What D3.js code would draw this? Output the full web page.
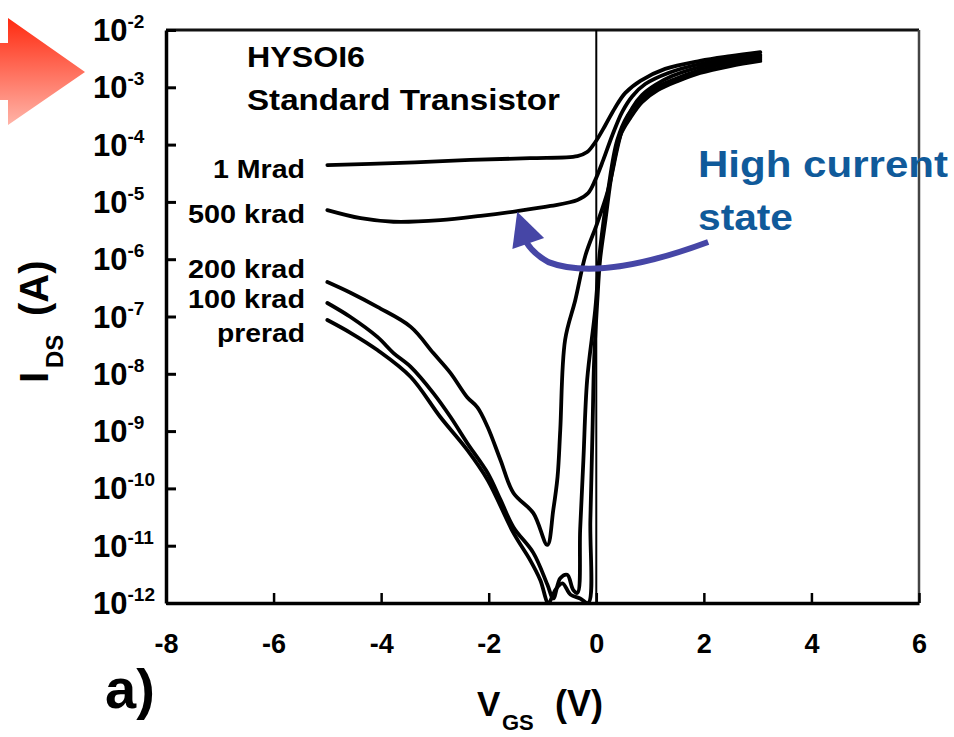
<!DOCTYPE html>
<html>
<head>
<meta charset="utf-8">
<script src="https://cdn.jsdelivr.net/npm/d3@7"></script>
<style>
  html, body { margin: 0; padding: 0; background: #fff; }
  svg { display: block; }
  text { font-family: "Liberation Sans", Arial, sans-serif; }
</style>
</head>
<body>
<svg id="chart" width="954" height="737"></svg>
<script>
// ---------- data ----------
const xTicks = [-8, -6, -4, -2, 0, 2, 4, 6];
const yTickExps = [-2, -3, -4, -5, -6, -7, -8, -9, -10, -11, -12];

const seriesNames = ["1 Mrad", "500 krad", "200 krad", "100 krad", "prerad"];

const vgs1M = [-5.00,-3.64,-2.34,-1.23,-0.35,-0.17,-0.02,0.17,0.35,0.54,0.82,1.28,1.93,2.49,3.05];
const ids1M = [4.4e-5,4.8e-5,5.4e-5,5.8e-5,6.3e-5,7.4e-5,1.1e-4,2.2e-4,4.4e-4,8.0e-4,1.3e-3,2.1e-3,2.9e-3,3.5e-3,4.1e-3];

const vgs500k = [-5.00,-4.38,-3.77,-2.90,-2.15,-1.47,-0.85,-0.35,-0.15,-0.02,0.13,0.30,0.48,0.67,0.91,1.34,1.93,2.49,3.05];
const ids500k = [7.2e-6,5.2e-6,4.5e-6,4.8e-6,5.7e-6,6.9e-6,8.5e-6,1.08e-5,1.43e-5,2.4e-5,5.4e-5,1.47e-4,3.7e-4,7.0e-4,1.14e-3,1.78e-3,2.55e-3,3.1e-3,3.66e-3];

const vgs200k = [-5.00,-4.57,-4.07,-3.45,-3.03,-2.71,-2.40,-2.21,-2.02,-1.78,-1.54,-1.17,-0.91,-0.80,-0.72,-0.67,-0.58,-0.39,-0.20,0.02,0.22,0.48,0.67,0.85,1.10,1.41,1.93,2.49,3.05];
const ids200k = [4.0e-7,2.6e-7,1.47e-7,6.6e-8,2.3e-8,1.03e-8,3.9e-9,2.6e-9,1.18e-9,3.1e-10,8.3e-11,3.7e-11,1.03e-11,4.2e-11,1.6e-10,1.04e-9,3.9e-8,1.94e-7,1.18e-6,4.3e-6,1.61e-5,1.8e-4,4.35e-4,7.3e-4,1.10e-3,1.57e-3,2.26e-3,2.88e-3,3.38e-3];

const vgs100k = [-5.00,-4.57,-4.07,-3.77,-3.45,-3.03,-2.71,-2.40,-2.02,-1.78,-1.54,-1.17,-0.91,-0.80,-0.67,-0.54,-0.43,-0.35,-0.30,-0.24,-0.17,-0.02,0.07,0.22,0.39,0.59,0.82,1.10,1.47,1.93,2.49,3.05];
const ids100k = [1.72e-7,9.8e-8,4.4e-8,2.3e-8,1.32e-8,4.6e-9,1.76e-9,6.2e-10,1.86e-10,6.3e-11,2.1e-11,7.5e-12,2.1e-12,1.2e-12,2.7e-12,3.1e-12,1.7e-12,1.5e-12,1.9e-11,3.1e-10,7.8e-9,1.3e-7,1.45e-6,1.61e-5,1.2e-4,3.3e-4,6.0e-4,9.7e-4,1.4e-3,2.0e-3,2.65e-3,3.12e-3];

const vgsPre = [-5.00,-4.57,-4.07,-3.45,-2.90,-2.40,-2.02,-1.54,-1.23,-1.04,-0.89,-0.76,-0.63,-0.48,-0.30,-0.15,-0.11,-0.07,-0.04,0.02,0.07,0.17,0.30,0.45,0.63,0.85,1.15,1.52,1.93,2.49,3.05];
const idsPre = [8.7e-8,5.2e-8,2.6e-8,8.8e-9,1.76e-9,4.7e-10,1.4e-10,1.67e-11,5.6e-12,2.5e-12,1.0e-12,1.7e-12,2.2e-12,1.4e-12,1.2e-12,1.0e-12,2.8e-11,1.04e-9,1.74e-8,1.94e-7,9.7e-7,4.8e-6,3.6e-5,1.47e-4,2.9e-4,5.5e-4,9.0e-4,1.29e-3,1.78e-3,2.35e-3,2.88e-3];

// annotation arrow (data units): curve from label back to the 500 krad trace
const arrowVgs = [2.08, 0.07, -0.89, -1.23, -1.34];
const arrowIds = [2.0e-6, 4.0e-7, 8.9e-7, 1.34e-6, 2.35e-6];
const headVgs = [-1.47, -1.56, -0.97];
const headIds = [6.7e-6, 1.5e-6, 2.34e-6];

// ---------- drawing ----------
const svg = d3.select("#chart");
const L = 166, R = 919, T = 30, B = 603;

const x = d3.scaleLinear().domain([-8, 6]).range([L, R]);
const y = d3.scaleLog().domain([1e-12, 1e-2]).range([B, T]);

// red block arrow (slide decoration)
const defs = svg.append("defs");
const grad = defs.append("linearGradient").attr("id", "redGrad")
  .attr("gradientUnits", "userSpaceOnUse").attr("x1", 0).attr("y1", 18).attr("x2", 0).attr("y2", 125);
grad.append("stop").attr("offset", "0").attr("stop-color", "#ff2a10");
grad.append("stop").attr("offset", "1").attr("stop-color", "#ffb4a8");
svg.append("polygon")
  .attr("points", "0,43 8,43 8,18 85,72 8,125 8,100 0,100")
  .attr("fill", "url(#redGrad)");

defs.append("clipPath").attr("id", "plotClip")
  .append("rect").attr("x", L).attr("y", T).attr("width", R - L).attr("height", B - T);

// frame (top/right)
svg.append("line").attr("x1", L).attr("x2", R).attr("y1", T).attr("y2", T)
  .attr("stroke", "#111").attr("stroke-width", 3);
svg.append("line").attr("x1", R).attr("x2", R).attr("y1", T).attr("y2", B)
  .attr("stroke", "#444").attr("stroke-width", 2.5);

// V = 0 reference line
svg.append("line").attr("x1", x(0)).attr("x2", x(0)).attr("y1", T).attr("y2", B)
  .attr("stroke", "#000").attr("stroke-width", 2);

// axes
const yAxis = d3.axisLeft(y)
  .tickValues(yTickExps.map(e => Math.pow(10, e)))
  .tickSize(-10).tickSizeOuter(0).tickFormat("");
const gy = svg.append("g").attr("transform", `translate(${L},0)`).call(yAxis);
gy.select(".domain").attr("stroke", "#000").attr("stroke-width", 3.5);
gy.selectAll(".tick line").attr("stroke", "#000").attr("stroke-width", 3);

const xAxis = d3.axisBottom(x)
  .tickValues(xTicks).tickSize(-10).tickSizeOuter(0).tickPadding(31)
  .tickFormat(d => String(d));
const gx = svg.append("g").attr("transform", `translate(0,${B})`).call(xAxis);
gx.select(".domain").attr("stroke", "#000").attr("stroke-width", 3.5);
gx.selectAll(".tick line").attr("stroke", "#000").attr("stroke-width", 2.5);
gx.selectAll(".tick text")
  .attr("font-family", '"Liberation Sans", Arial, sans-serif')
  .attr("font-size", 27).attr("font-weight", "bold").attr("fill", "#000");

// y tick labels with superscripts
const ylab = svg.append("g");
yTickExps.forEach(e => {
  const t = ylab.append("text")
    .attr("x", 93).attr("y", y(Math.pow(10, e)) + 11)
    .attr("font-size", 31).attr("font-weight", "bold").attr("fill", "#000");
  t.append("tspan").text("10");
  t.append("tspan").attr("font-size", 19).attr("dy", -13).text(String(e));
});

// curves
const series = [
  { name: seriesNames[0], v: vgs1M, i: ids1M },
  { name: seriesNames[1], v: vgs500k, i: ids500k },
  { name: seriesNames[2], v: vgs200k, i: ids200k },
  { name: seriesNames[3], v: vgs100k, i: ids100k },
  { name: seriesNames[4], v: vgsPre, i: idsPre }
];
const line = d3.line()
  .x(d => x(d[0])).y(d => y(d[1]))
  .curve(d3.curveCatmullRom.alpha(0.5));
svg.append("g").attr("clip-path", "url(#plotClip)")
  .selectAll("path").data(series).join("path")
  .attr("d", s => line(s.v.map((v, k) => [v, s.i[k]])))
  .attr("fill", "none").attr("stroke", "#000")
  .attr("stroke-width", 3.8).attr("stroke-linejoin", "round").attr("stroke-linecap", "round");

// in-plot texts
svg.append("text").attr("x", 247).attr("y", 67).attr("font-size", 29).attr("font-weight", "bold")
  .attr("textLength", 118).attr("lengthAdjust", "spacingAndGlyphs").text("HYSOI6");
svg.append("text").attr("x", 247).attr("y", 110).attr("font-size", 29).attr("font-weight", "bold")
  .attr("textLength", 313).attr("lengthAdjust", "spacingAndGlyphs").text("Standard Transistor");

const labelPos = [
  { x: 213, y: 178, w: 92 },
  { x: 188, y: 223, w: 117 },
  { x: 188, y: 278, w: 117 },
  { x: 188, y: 308, w: 117 },
  { x: 217, y: 342, w: 88 }
];
seriesNames.forEach((n, k) => {
  svg.append("text").attr("x", labelPos[k].x).attr("y", labelPos[k].y)
    .attr("font-size", 26).attr("font-weight", "bold")
    .attr("textLength", labelPos[k].w).attr("lengthAdjust", "spacingAndGlyphs").text(n);
});

// axis titles
const xt = svg.append("text").attr("y", 716).attr("font-weight", "bold").attr("fill", "#000");
xt.append("tspan").attr("x", 477).attr("font-size", 35).text("V");
xt.append("tspan").attr("x", 502).attr("dy", 14).attr("font-size", 22).text("GS");
xt.append("tspan").attr("x", 555).attr("dy", -14).attr("font-size", 36).text("(V)");

const yt = svg.append("text").attr("transform", "translate(48,383) rotate(-90)")
  .attr("font-weight", "bold").attr("fill", "#000");
yt.append("tspan").attr("x", 0).attr("y", 0).attr("font-size", 40).text("I");
yt.append("tspan").attr("x", 15).attr("y", 15).attr("font-size", 24).text("DS");
yt.append("tspan").attr("x", 67).attr("y", 0).attr("font-size", 40).text("(A)");

svg.append("text").attr("x", 105).attr("y", 708).attr("font-size", 56).attr("font-weight", "bold").text("a)");

// annotation
const blue = "#4646a6";
const ap = arrowVgs.map((v, k) => [x(v), y(arrowIds[k])]);
svg.append("path")
  .attr("d", `M${ap[0]}Q${ap[1]} ${ap[2]}Q${ap[3]} ${ap[4]}`)
  .attr("fill", "none").attr("stroke", blue).attr("stroke-width", 6);
svg.append("polygon")
  .attr("points", headVgs.map((v, k) => [x(v), y(headIds[k])].join(",")).join(" "))
  .attr("fill", blue);

svg.append("text").attr("x", 698).attr("y", 177).attr("font-size", 37).attr("font-weight", "bold")
  .attr("fill", "#105a9a").attr("textLength", 250).attr("lengthAdjust", "spacingAndGlyphs").text("High current");
svg.append("text").attr("x", 698).attr("y", 230).attr("font-size", 37).attr("font-weight", "bold")
  .attr("fill", "#105a9a").attr("textLength", 95).attr("lengthAdjust", "spacingAndGlyphs").text("state");
</script>
</body>
</html>
